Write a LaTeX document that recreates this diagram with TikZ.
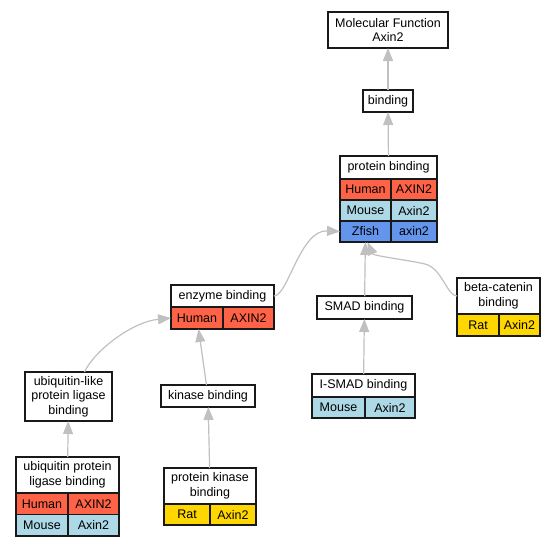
\documentclass[tikz,border=0pt]{standalone}
\usepackage{fontspec}
\newfontfamily\gosans{Liberation Sans}
\usetikzlibrary{arrows.meta,positioning}
\definecolor{clrHuman}{HTML}{FF6347}
\definecolor{clrMouse}{HTML}{ADD8E6}
\definecolor{clrZfish}{HTML}{6495ED}
\definecolor{clrRat}{HTML}{FFD700}
\definecolor{clrEdge}{HTML}{C0C0C0}
\tikzset{
  gobox/.style={
    rectangle, draw=black!90, line width=1.2pt, fill=white,
    inner sep=0pt, outer sep=0pt, anchor=north west, align=center,
    font={\gosans\fontsize{12.5}{14.5}\selectfont}
  },
  gocell/.style={gobox, minimum height=21pt},
  human/.style={gocell, fill=clrHuman},
  mouse/.style={gocell, fill=clrMouse},
  zfish/.style={gocell, fill=clrZfish},
  rat/.style={gocell, fill=clrRat},
  goarrow/.style={-{Triangle[length=13pt,width=10pt]}, draw=clrEdge, line width=1.2pt},
}

\begin{document}
\begin{tikzpicture}[x=1pt, y=-1pt]
  \useasboundingbox (0,0) rectangle (556,547);
  \node (mf) [gobox, minimum width=120pt, minimum height=36pt] at (328,12) {Molecular Function\\Axin2};
  \node (bind) [gobox, minimum width=50pt, minimum height=22pt] at (363,90) {binding};

  \node (pb) [gobox, minimum width=97pt, minimum height=23pt] at (340,156) {protein binding};
  \node (pbHuman) [human, minimum width=51pt] at (pb.south west) {Human};
  \node (pbHumanG) [human, minimum width=46pt] at (pbHuman.north east) {AXIN2};
  \node (pbMouse) [mouse, minimum width=51pt] at (pbHuman.south west) {Mouse};
  \node (pbMouseG) [mouse, minimum width=46pt] at (pbMouse.north east) {Axin2};
  \node (pbZfish) [zfish, minimum width=51pt] at (pbMouse.south west) {Zfish};
  \node (pbZfishG) [zfish, minimum width=46pt] at (pbZfish.north east) {axin2};

  \node (smad) [gobox, minimum width=95pt, minimum height=23pt] at (317,296) {SMAD binding};
  \node (ismad) [gobox, minimum width=103pt, minimum height=23pt] at (312,374) {I-SMAD binding};
  \node (ismadMouse) [mouse, minimum width=53pt] at (ismad.south west) {Mouse};
  \node (ismadMouseG) [mouse, minimum width=50pt] at (ismadMouse.north east) {Axin2};

  \node (bc) [gobox, minimum width=83pt, minimum height=36pt] at (457,278) {beta-catenin\\binding};
  \node (bcRat) [rat, minimum width=42pt, minimum height=22pt] at (bc.south west) {Rat};
  \node (bcRatG) [rat, minimum width=41pt, minimum height=22pt] at (bcRat.north east) {Axin2};

  \node (enz) [gobox, minimum width=103pt, minimum height=22pt] at (171,285) {enzyme binding};
  \node (enzHuman) [human, minimum width=52pt, minimum height=22pt] at (enz.south west) {Human};
  \node (enzHumanG) [human, minimum width=51pt, minimum height=22pt] at (enzHuman.north east) {AXIN2};

  \node (kin) [gobox, minimum width=94pt, minimum height=22pt] at (161,385) {kinase binding};
  \node (pkb) [gobox, minimum width=92pt, minimum height=36pt] at (164,468) {protein kinase\\binding};
  \node (pkbRat) [rat, minimum width=46pt] at (pkb.south west) {Rat};
  \node (pkbRatG) [rat, minimum width=46pt] at (pkbRat.north east) {Axin2};

  \node (ubl) [gobox, minimum width=87pt, minimum height=49pt] at (25,372) {ubiquitin-like\\protein ligase\\binding};
  \node (ubpl) [gobox, minimum width=103pt, minimum height=36pt] at (16,457) {ubiquitin protein\\ligase binding};
  \node (ubplHuman) [human, minimum width=52pt, minimum height=21.5pt] at (ubpl.south west) {Human};
  \node (ubplHumanG) [human, minimum width=51pt, minimum height=21.5pt] at (ubplHuman.north east) {AXIN2};
  \node (ubplMouse) [mouse, minimum width=52pt, minimum height=21.5pt] at (ubplHuman.south west) {Mouse};
  \node (ubplMouseG) [mouse, minimum width=51pt, minimum height=21.5pt] at (ubplMouse.north east) {Axin2};

  \draw[goarrow] (bind) -- (mf);
  \draw[goarrow] (pb) -- (bind);
  \draw[goarrow] (smad) -- (pbZfish);
  \draw[goarrow] (bc.west) .. controls +(-10,0) and +(17,4) .. ++(-32,-32)
    .. controls +(-17,-4) and +(6,14) .. ([xshift=2pt]pbZfish.south);
  \draw[goarrow] (enz.east) .. controls +(14,0) and +(-40,-2) .. (pbZfish.west);
  \draw[goarrow] ([xshift=16pt]ubl.north) .. controls +(9,-20) and +(-40,4) .. (enzHuman.west);
  \draw[goarrow] (kin) -- (enzHuman);
  \draw[goarrow] (ismad) -- (smad);
  \draw[goarrow] (pkb) -- (kin);
  \draw[goarrow] (ubpl) -- (ubl);
\end{tikzpicture}
\end{document}
